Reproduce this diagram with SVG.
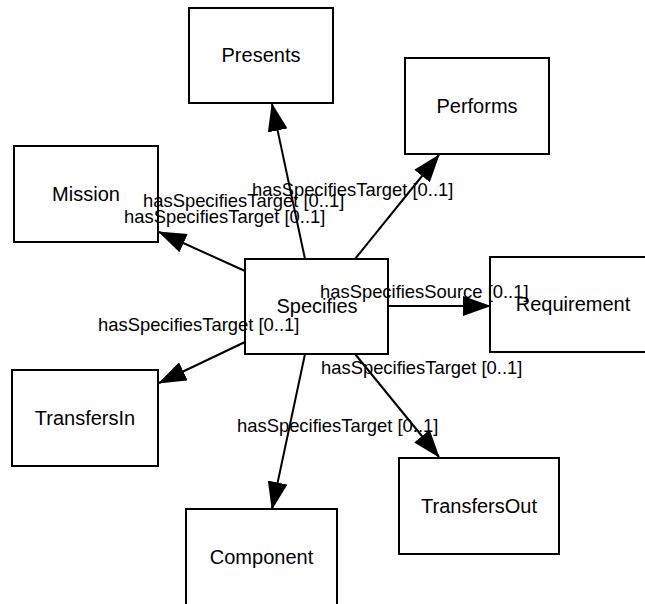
<svg xmlns="http://www.w3.org/2000/svg" width="645" height="604" viewBox="0 0 645 604">
<style>
.node rect{fill:#fff;stroke:#000;stroke-width:2}
.node text{font-family:"Liberation Sans",Arial,sans-serif;font-size:20px;text-anchor:middle;fill:#000}
.edge line{stroke:#000;stroke-width:2;marker-end:url(#arr)}
.lbl{font-family:"Liberation Sans",Arial,sans-serif;font-size:18.4px;fill:#000}
</style>
<defs>
<marker id="arr" markerUnits="userSpaceOnUse" viewBox="0 -10 28 20" markerWidth="28" markerHeight="20" refX="27" refY="0" orient="auto">
<path d="M0,-10 L28,0 L0,10 Z" fill="#000"/>
</marker>
</defs>
<rect width="645" height="604" fill="#fff"/>
<g id="nodes">
<g id="Presents" class="node"><rect x="189" y="8" width="144" height="95"/><text x="261" y="62">Presents</text></g>
<g id="Performs" class="node"><rect x="405" y="58" width="144" height="96"/><text x="477" y="113">Performs</text></g>
<g id="Mission" class="node"><rect x="14" y="146" width="144" height="96"/><text x="86" y="201">Mission</text></g>
<g id="Specifies" class="node"><rect x="245" y="259" width="143" height="95"/><text x="317" y="313">Specifies</text></g>
<g id="Requirement" class="node"><rect x="490" y="257" width="167" height="95"/><text x="573" y="311">Requirement</text></g>
<g id="TransfersIn" class="node"><rect x="12" y="370" width="146" height="96"/><text x="85" y="425">TransfersIn</text></g>
<g id="Component" class="node"><rect x="186" y="509" width="151" height="97"/><text x="261.5" y="564">Component</text></g>
<g id="TransfersOut" class="node"><rect x="399" y="458" width="160" height="96"/><text x="479" y="513">TransfersOut</text></g>
</g>
<g id="connectors" class="edge">
<line x1="305" y1="259" x2="272" y2="104"/>
<line x1="355" y1="259" x2="439" y2="155"/>
<line x1="245" y1="271" x2="159" y2="232"/>
<line x1="388" y1="306" x2="490" y2="306"/>
<line x1="245" y1="342" x2="159" y2="383"/>
<line x1="305" y1="354" x2="272" y2="509"/>
<line x1="355" y1="354" x2="439" y2="457"/>
</g>
<g id="labels">
<text class="lbl" x="252" y="196">hasSpecifiesTarget [0..1]</text>
<text class="lbl" x="143" y="207">hasSpecifiesTarget [0..1]</text>
<text class="lbl" x="124" y="223">hasSpecifiesTarget [0..1]</text>
<text class="lbl" x="98" y="331">hasSpecifiesTarget [0..1]</text>
<text class="lbl" x="320" y="298">hasSpecifiesSource [0..1]</text>
<text class="lbl" x="321" y="374">hasSpecifiesTarget [0..1]</text>
<text class="lbl" x="237" y="432">hasSpecifiesTarget [0..1]</text>
</g>
</svg>
